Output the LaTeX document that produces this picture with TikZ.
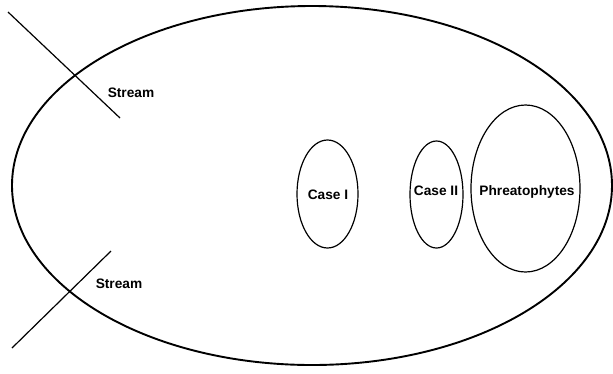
\documentclass[tikz,border=0pt]{standalone}
\usepackage{fontspec}
\setmainfont{Liberation Sans}
\usetikzlibrary{shapes.geometric}
\begin{document}
\begin{tikzpicture}[x=1pt,y=-1pt,
  lbl/.style={font=\fontsize{13.7}{15}\selectfont\bfseries, inner sep=0pt},
  oval/.style={draw, ellipse, line width=1.2pt, inner sep=0pt},
  ln/.style={line width=1.2pt}]
\useasboundingbox (0,0) rectangle (613,373);
\node[draw, ellipse, line width=1.9pt, minimum width=600pt, minimum height=359pt, inner sep=0pt] (big) at (312,185.5) {};
\node[oval, minimum width=61pt, minimum height=108pt] (c1) at (327.5,194) {};
\node[oval, minimum width=53pt, minimum height=107pt] (c2) at (436.5,194.5) {};
\node[oval, minimum width=109pt, minimum height=167pt] (ph) at (525.5,188.5) {};
\node[lbl] (t1) at (328,195) {Case I};
\node[lbl] (t2) at (436,191) {Case II};
\node[lbl] (t3) at (527,192) {Phreatophytes};
\node[lbl] (s1) at (131,93) {Stream};
\node[lbl] (s2) at (119,284) {Stream};
\coordinate (a1) at (8,12);
\coordinate (a2) at (120,118);
\coordinate (b1) at (111,251);
\coordinate (b2) at (12,348);
\draw[ln] (a1) -- (a2);
\draw[ln] (b1) -- (b2);
\end{tikzpicture}
\end{document}
